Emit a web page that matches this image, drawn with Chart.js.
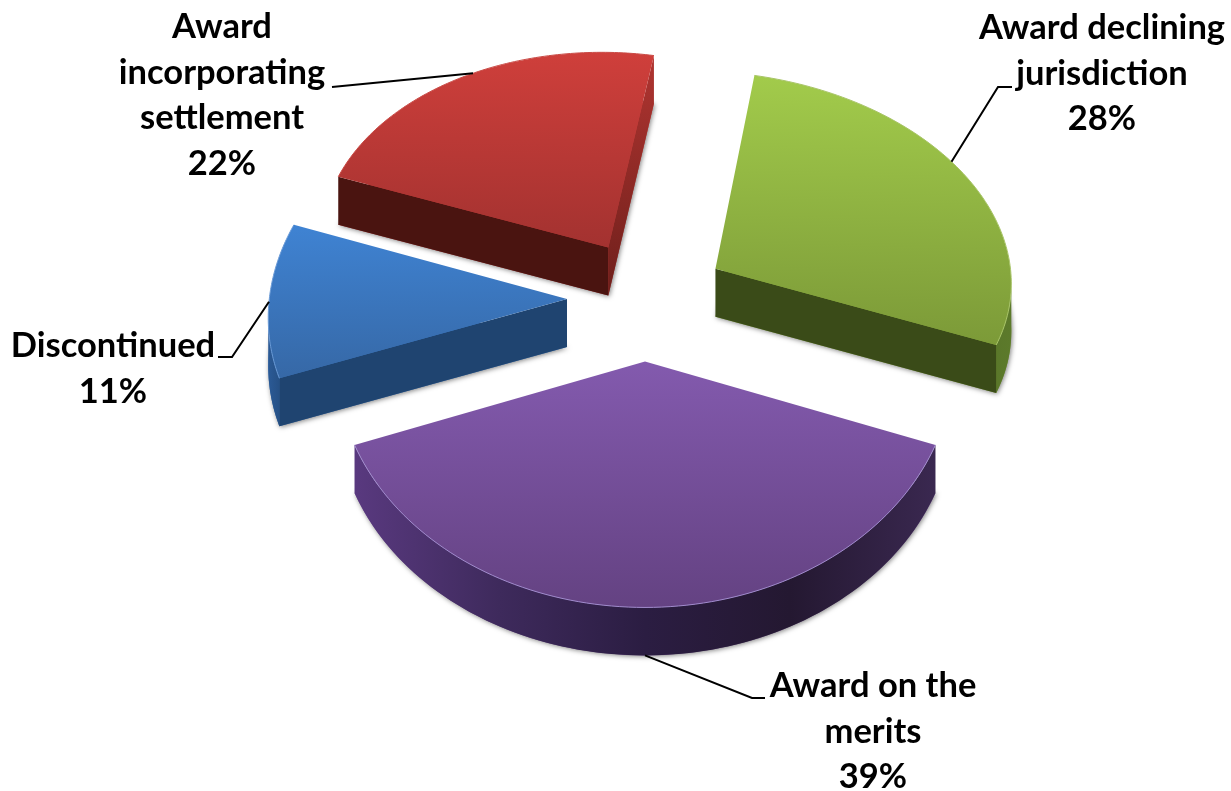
<!DOCTYPE html>
<html>
<head>
<meta charset="utf-8">
<title>Award types</title>
<script src="https://cdn.jsdelivr.net/npm/chart.js@4/dist/chart.umd.js"></script>
<style>
  html, body { margin: 0; padding: 0; background: #fff; }
  canvas { display: block; }
</style>
</head>
<body>
<canvas id="myChart" width="1231" height="791"></canvas>
<script>
// chart data
var categories = ['Award declining jurisdiction', 'Award on the merits', 'Discontinued', 'Award incorporating settlement'];
var shares = [28, 39, 11, 22];

// how each category label breaks over lines
var labelLines = [
  ['Award declining', 'jurisdiction'],
  ['Award on the', 'merits'],
  ['Discontinued'],
  ['Award', 'incorporating', 'settlement']
];

// colours: top face gradient, walls
var faceTop = ['#a2cb4b', '#835aae', '#3f83d3', '#cf3f3b'];
var faceBottom = ['#7c9a38', '#644282', '#3668a6', '#a33230'];
var rimColors = ['#a8c468', '#a08bcc', '#6a9ad6', '#c94a45'];
var frontWall = ['#3a4b18', '#3a2755', '#1f4470', '#4a1410'];
var sideTop = ['#5c7a2b', '#3a2755', '#24507f', '#b03531'];
var sideBottom = ['#3f5219', '#2a1c40', '#1f4470', '#6e1f1b'];
var arcWallStops = [
  ['#3f5219', '#5c7a2b'],
  ['#59397f', '#3e2a5c', '#2b1d42', '#241831', '#3a2850'],
  ['#2b5a96', '#1f4470'],
  ['#4a1410', '#4a1410']
];

// label placement (centre x, first baseline y) and leader line elbows
var labelX = [1102, 873, 113, 222];
var labelY = [39, 697, 357, 38];
var lineGap = 45.5;
var leaderFrac = [0.45, 0.5, 0.5, 0.53];
var leaderOnWall = [false, true, false, false];
var leaderElbows = [
  [[998, 87], [1012, 87]],
  [[752, 698], [765, 698]],
  [[232, 357], [218, 357]],
  [[332, 87]]
];

// 3d look
var startRotation = 9;
var pieRadius = 298;
var explode = 79;
var squash = 0.76;
var depth = 48;
var perspX = 0.0002;
var perspY = 0.00033;
var centerX = 645;
var centerY = 300;
// small per slice corrections, the reference is not a clean projection
var sliceShiftX = [3, 0, 1, 3];
var sliceShiftY = [-1, 0, -1, -2];
var sliceScale = [0.985, 1, 1, 1];

function project(wx, wy) {
  var X = wx - centerX;
  var Y = wy - centerY;
  return { x: centerX + X * (1 + perspX * Y), y: centerY + squash * Y * (1 + perspY * Y) };
}

// affine that takes a flat library arc onto its place in the tilted pie
function sliceMatrix(arc, i) {
  var mid = (arc.startAngle + arc.endAngle) / 2;
  var R = arc.outerRadius;
  var k = sliceScale[i];
  var ex = arc.x + explode * Math.cos(mid);
  var ey = arc.y + explode * Math.sin(mid);
  var ux = R * Math.cos(arc.startAngle), uy = R * Math.sin(arc.startAngle);
  var vx = R * Math.cos(arc.endAngle), vy = R * Math.sin(arc.endAngle);
  var A = project(ex, ey);
  var B = project(ex + k * ux, ey + k * uy);
  var C = project(ex + k * vx, ey + k * vy);
  var bx = B.x - A.x, by = B.y - A.y, cx = C.x - A.x, cy = C.y - A.y;
  var det = ux * vy - uy * vx;
  var a = (bx * vy - cx * uy) / det;
  var c = (cx * ux - bx * vx) / det;
  var b = (by * vy - cy * uy) / det;
  var d = (cy * ux - by * vx) / det;
  return {
    a: a, b: b, c: c, d: d,
    e: A.x + sliceShiftX[i] - a * arc.x - c * arc.y,
    f: A.y + sliceShiftY[i] - b * arc.x - d * arc.y
  };
}

function mapPoint(m, x, y) {
  return { x: m.a * x + m.c * y + m.e, y: m.b * x + m.d * y + m.f };
}

function quad(ctx, p, q, fill) {
  ctx.beginPath();
  ctx.moveTo(p.x, p.y);
  ctx.lineTo(q.x, q.y);
  ctx.lineTo(q.x, q.y + depth);
  ctx.lineTo(p.x, p.y + depth);
  ctx.closePath();
  ctx.fillStyle = fill;
  ctx.fill();
}

function drawEdgeWall(ctx, i, apex, p, inside) {
  var nx = -(p.y - apex.y), ny = p.x - apex.x;
  if (nx * (apex.x - inside.x) + ny * (apex.y - inside.y) < 0) { nx = -nx; ny = -ny; }
  if (ny <= 0) return;
  var fill = frontWall[i];
  if (nx > ny) {
    var g = ctx.createLinearGradient(0, Math.min(apex.y, p.y), 0, Math.max(apex.y, p.y) + depth);
    g.addColorStop(0, sideTop[i]);
    g.addColorStop(1, sideBottom[i]);
    fill = g;
  }
  quad(ctx, apex, p, fill);
}

function drawArcWall(ctx, i, arc, m) {
  var steps = 90, pts = [], minX = 1e9, maxX = -1e9;
  for (var s = 0; s <= steps; s++) {
    var t = arc.startAngle + (arc.endAngle - arc.startAngle) * s / steps;
    var pt = mapPoint(m, arc.x + arc.outerRadius * Math.cos(t), arc.y + arc.outerRadius * Math.sin(t));
    pts.push(pt);
    minX = Math.min(minX, pt.x);
    maxX = Math.max(maxX, pt.x);
  }
  // only the stretch of the rim that faces the viewer
  var vis = [];
  for (var k = 0; k < steps; k++) {
    if (pts[k + 1].x < pts[k].x) {
      if (!vis.length) vis.push(pts[k]);
      vis.push(pts[k + 1]);
    }
  }
  if (vis.length > 1) {
    var g = ctx.createLinearGradient(minX, 0, maxX, 0);
    var stops = arcWallStops[i];
    stops.forEach(function (col, n) { g.addColorStop(n / (stops.length - 1), col); });
    ctx.beginPath();
    vis.forEach(function (p, n) { n ? ctx.lineTo(p.x, p.y) : ctx.moveTo(p.x, p.y); });
    for (var j = vis.length - 1; j >= 0; j--) ctx.lineTo(vis[j].x, vis[j].y + depth);
    ctx.closePath();
    ctx.fillStyle = g;
    ctx.fill();
  }
  return pts;
}

// pie slices drawn by hand out of the library's own arc elements
var pie3d = {
  id: 'pie3d',
  beforeDatasetsDraw: function (chart) {
    var ctx = chart.ctx;
    var arcs = chart.getDatasetMeta(0).data;
    var order = [3, 0, 2, 1];
    order.forEach(function (i) {
      var arc = arcs[i];
      var m = sliceMatrix(arc, i);
      var mid = (arc.startAngle + arc.endAngle) / 2;
      var apex = mapPoint(m, arc.x, arc.y);
      var inside = mapPoint(m, arc.x + 0.6 * arc.outerRadius * Math.cos(mid), arc.y + 0.6 * arc.outerRadius * Math.sin(mid));
      var p0 = mapPoint(m, arc.x + arc.outerRadius * Math.cos(arc.startAngle), arc.y + arc.outerRadius * Math.sin(arc.startAngle));
      var p1 = mapPoint(m, arc.x + arc.outerRadius * Math.cos(arc.endAngle), arc.y + arc.outerRadius * Math.sin(arc.endAngle));

      // soft shadow under the slice
      ctx.save();
      ctx.shadowColor = 'rgba(0,0,0,0.5)';
      ctx.shadowBlur = 5;
      ctx.shadowOffsetX = 1;
      ctx.shadowOffsetY = 1;
      ctx.translate(0, depth);
      ctx.transform(m.a, m.b, m.c, m.d, m.e, m.f);
      arc.draw(ctx);
      ctx.restore();

      var pts = drawArcWall(ctx, i, arc, m);
      drawEdgeWall(ctx, i, apex, p0, inside);
      drawEdgeWall(ctx, i, apex, p1, inside);

      // top face
      ctx.save();
      ctx.transform(m.a, m.b, m.c, m.d, m.e, m.f);
      arc.draw(ctx);
      ctx.restore();

      // pale rim on the top edge
      ctx.beginPath();
      pts.forEach(function (p, n) { n ? ctx.lineTo(p.x, p.y) : ctx.moveTo(p.x, p.y); });
      ctx.strokeStyle = rimColors[i];
      ctx.lineWidth = 1;
      ctx.stroke();
    });
    return false;
  },
  afterDraw: function (chart) {
    var ctx = chart.ctx;
    var arcs = chart.getDatasetMeta(0).data;
    ctx.save();
    arcs.forEach(function (arc, i) {
      // leader line
      var m = sliceMatrix(arc, i);
      var t = arc.startAngle + (arc.endAngle - arc.startAngle) * leaderFrac[i];
      var from = mapPoint(m, arc.x + arc.outerRadius * Math.cos(t), arc.y + arc.outerRadius * Math.sin(t));
      ctx.beginPath();
      ctx.moveTo(from.x, from.y + (leaderOnWall[i] ? depth : 0));
      leaderElbows[i].forEach(function (p) { ctx.lineTo(p[0], p[1]); });
      ctx.strokeStyle = '#000';
      ctx.lineWidth = 2;
      ctx.stroke();

      // label text
      ctx.fillStyle = '#000';
      ctx.font = 'bold 34.5px Lato';
      ctx.textAlign = 'center';
      ctx.textBaseline = 'alphabetic';
      var lines = labelLines[i].concat([shares[i] + '%']);
      lines.forEach(function (line, n) {
        ctx.fillText(line, labelX[i], labelY[i] + n * lineGap);
      });
    });
    ctx.restore();
  }
};

function sliceGradient(context) {
  var chart = context.chart;
  var i = context.dataIndex;
  if (!chart.chartArea) return faceTop[i];
  var total = shares.reduce(function (a, b) { return a + b; }, 0);
  var before = shares.slice(0, i).reduce(function (a, b) { return a + b; }, 0);
  var a0 = (startRotation - 90 + before / total * 360) * Math.PI / 180;
  var a1 = a0 + shares[i] / total * 2 * Math.PI;
  var minY = 0, maxY = 0;
  for (var s = 0; s <= 40; s++) {
    var y = pieRadius * Math.sin(a0 + (a1 - a0) * s / 40);
    minY = Math.min(minY, y);
    maxY = Math.max(maxY, y);
  }
  var g = chart.ctx.createLinearGradient(0, centerY + minY, 0, centerY + maxY);
  g.addColorStop(0, faceTop[i]);
  g.addColorStop(1, faceBottom[i]);
  return g;
}

var myChart = new Chart(document.getElementById('myChart'), {
  type: 'pie',
  plugins: [pie3d],
  data: {
    labels: categories,
    datasets: [{
      data: shares,
      backgroundColor: sliceGradient,
      borderWidth: 0
    }]
  },
  options: {
    responsive: false,
    animation: false,
    rotation: startRotation,
    radius: pieRadius,
    layout: { padding: { left: 59, bottom: 191 } },
    plugins: { legend: { display: false }, tooltip: { enabled: false } }
  }
});
</script>
</body>
</html>
